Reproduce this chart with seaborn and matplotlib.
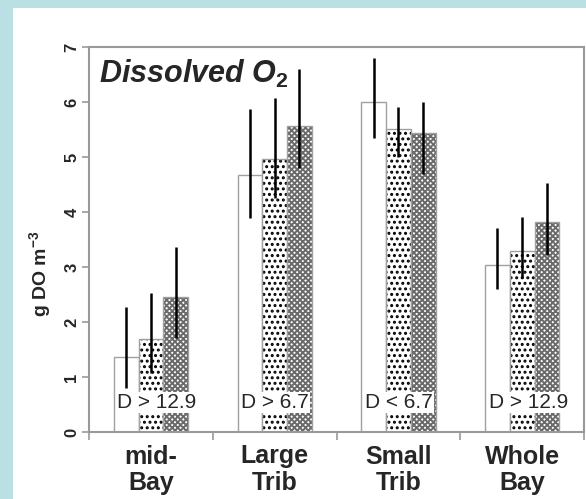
import matplotlib
matplotlib.use("Agg")
import matplotlib.pyplot as plt
import seaborn as sns
import pandas as pd
import numpy as np
from matplotlib.patches import Rectangle
from matplotlib.colors import to_rgba

# ---------------- data ----------------
regions = ["mid-\nBay", "Large\nTrib", "Small\nTrib", "Whole\nBay"]
scenarios = ["Scenario 1", "Scenario 2", "Scenario 3"]
mean_s1 = [1.37, 4.67, 6.00, 3.04]
mean_s2 = [1.70, 4.96, 5.51, 3.29]
mean_s3 = [2.45, 5.56, 5.44, 3.82]
low_s1 = [0.80, 3.89, 5.35, 2.60]
low_s2 = [1.07, 4.25, 5.00, 2.80]
low_s3 = [1.71, 4.80, 4.70, 3.22]
high_s1 = [2.27, 5.87, 6.80, 3.71]
high_s2 = [2.53, 6.07, 5.91, 3.91]
high_s3 = [3.36, 6.60, 6.00, 4.53]
d_labels = ["D > 12.9", "D > 6.7", "D < 6.7", "D > 12.9"]
y_ticks = [0, 1, 2, 3, 4, 5, 6, 7]

means = [mean_s1, mean_s2, mean_s3]
lows = [low_s1, low_s2, low_s3]
highs = [high_s1, high_s2, high_s3]

rows = []
for s, m in zip(scenarios, means):
    for r, v in zip(regions, m):
        rows.append({"region": r, "scenario": s, "value": v})
df = pd.DataFrame(rows)

# ---------------- style ----------------
sns.set_theme(style="white")
plt.rcParams["font.family"] = ["Liberation Sans", "DejaVu Sans"]
plt.rcParams["mathtext.fontset"] = "custom"
plt.rcParams["mathtext.rm"] = "Liberation Sans:bold"
plt.rcParams["mathtext.it"] = "Liberation Sans:italic:bold"
plt.rcParams["mathtext.bf"] = "Liberation Sans:bold"
plt.rcParams["hatch.linewidth"] = 1.4

W, H = 586, 499
fig = plt.figure(figsize=(W / 100, H / 100), dpi=100)
fig.patch.set_facecolor("#bae0e3")
fig.add_artist(Rectangle((13 / W, 0), 1, (H - 8) / H, transform=fig.transFigure,
                         facecolor="white", edgecolor="none", zorder=-10))

ax = fig.add_axes([89 / W, 67 / H, 495 / W, 385 / H])
ax.set_facecolor("white")

sns.barplot(data=df, x="region", y="value", hue="scenario", order=regions,
            hue_order=scenarios, width=0.6, errorbar=None, legend=False,
            palette=["white"] * 3, saturation=1, edgecolor="#a0a0a0",
            linewidth=1, ax=ax)

bars = sorted([p for p in ax.patches if p.get_height() > 0], key=lambda p: p.get_x())
hatches = ["", "...", "xxxxxx"]
hatch_cols = ["#a0a0a0", "black", "#6a6a6a"]
for k, p in enumerate(bars):
    j = k % 3
    i = k // 3
    p.set_hatch(hatches[j])
    try:
        p._hatch_color = to_rgba(hatch_cols[j])
    except Exception:
        pass
    cx = p.get_x() + p.get_width() / 2
    ax.vlines(cx, lows[j][i], highs[j][i], color="black", lw=1.8, zorder=3)

for i, lab in enumerate(d_labels):
    ax.text(i - 0.3 + 0.03, 0.53, lab, ha="left", va="center", fontsize=15,
            bbox=dict(boxstyle="square,pad=0.05", fc="white", ec="none"), zorder=4)

ax.text(0.02, 0.906, "Dissolved O$_{\\mathrm{2}}$", transform=ax.transAxes,
        fontsize=22, fontweight="bold", fontstyle="italic", va="baseline", zorder=5)

ax.set_xlim(-0.5, 3.5)
ax.set_ylim(0, 7)
ax.set_yticks(y_ticks)
ax.set_yticklabels([str(t) for t in y_ticks], rotation=90, va="center",
                   fontsize=12, fontweight="bold")
ax.set_xticks(range(len(regions)))
ax.set_xticklabels(regions, fontsize=18, fontweight="bold", linespacing=1.12)
ax.set_xticks(np.arange(-0.5, len(regions), 1), minor=True)
ax.tick_params(axis="x", which="major", length=0, pad=9, bottom=True)
ax.tick_params(axis="x", which="minor", length=6, color="#999999", width=1.2,
               bottom=True, direction="out")
ax.tick_params(axis="y", which="major", length=5, color="#999999", width=1.2,
               left=True, pad=2, direction="out")
ax.set_xlabel("")
ax.set_ylabel("g DO m$^{\\mathrm{-3}}$", fontsize=14, fontweight="bold")
ax.yaxis.set_label_coords(-0.072, 0.41)

for s in ax.spines.values():
    s.set_visible(True)
    s.set_color("#999999")
    s.set_linewidth(1.5)

fig.savefig("out.png", dpi=100, facecolor=fig.get_facecolor())
